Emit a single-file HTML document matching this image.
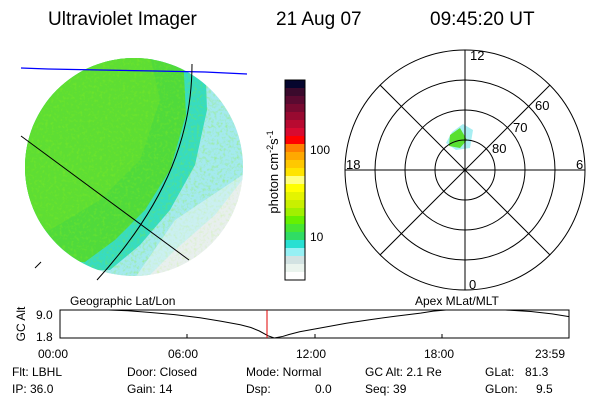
<!DOCTYPE html>
<html><head><meta charset="utf-8"><style>
body{margin:0;background:#fff;}
svg{display:block;font-family:"Liberation Sans",sans-serif;}
text{fill:#000;}
</style></head><body>
<svg width="600" height="400" viewBox="0 0 600 400">
<defs>
<clipPath id="disk"><circle cx="134" cy="167" r="109"/></clipPath>
<filter id="speck" x="0" y="0" width="1" height="1">
<feTurbulence type="fractalNoise" baseFrequency="0.35" numOctaves="2" seed="4" result="n"/>
<feColorMatrix in="n" type="matrix" values="0 0 0 0 0  0 0 0 0 0  0 0 0 0 0  0 0 0 1.6 -0.75" result="m"/>
<feComposite in="SourceGraphic" in2="m" operator="in"/>
</filter>
</defs>
<text x="48" y="25" font-size="19">Ultraviolet Imager</text>
<text x="276" y="25" font-size="19">21 Aug 07</text>
<text x="430" y="25" font-size="19">09:45:20 UT</text>

<g clip-path="url(#disk)">
<rect x="20" y="55" width="230" height="230" fill="#dfe9e8"/>
<path d="M20 55 L250 55 L250 170 L215 215 L175 250 L140 285 L20 285Z" fill="#a4eaee"/>
<path d="M20 55 L205 55 L207 110 L195 165 L170 210 L140 245 L110 270 L20 270Z" fill="#38dcc0"/>
<path d="M20 55 L183 55 L186 115 L170 170 L145 210 L115 240 L85 262 L20 262Z" fill="#50da3c"/>
<path d="M20 55 L150 55 L160 100 L140 160 L100 200 L50 230 L20 235Z" fill="#5ede34"/>
<rect x="20" y="55" width="230" height="230" fill="#8cf020" filter="url(#speck)" opacity="0.6"/>
<path d="M175 220 L250 170 L250 285 L130 285Z" fill="#f2f6f4" opacity="0.5"/>
</g>
<polyline points="21,68 48,69 100,70 155,71 205,72 247,74" fill="none" stroke="#0000ff" stroke-width="1.3"/>
<line x1="21" y1="136" x2="189" y2="260" stroke="#000"/>
<path d="M192 64 C192 130 170 200 97 280" fill="none" stroke="#000"/>
<line x1="35" y1="268" x2="41" y2="262" stroke="#000"/>

<g id="cbar"></g>
<rect x="285" y="80" width="20" height="200" fill="none" stroke="#000"/>
<text x="310" y="154" font-size="12">100</text>
<text x="310" y="241" font-size="12">10</text>
<text transform="translate(278,172) rotate(-90)" text-anchor="middle" font-size="13">photon cm<tspan font-size="9" dy="-5">-2</tspan><tspan dy="5">s</tspan><tspan font-size="9" dy="-5">-1</tspan></text>

<g fill="none" stroke="#000">
<path d="M452 132 L463 124 L473 130 L470 148 L456 150 L446 143Z" fill="#a8eef2" stroke="none"/>
<path d="M450 135 L460 128 L467 140 L460 148 L449 146Z" fill="#58e030" stroke="none"/>
<circle cx="465" cy="170" r="30"/><circle cx="465" cy="170" r="60"/><circle cx="465" cy="170" r="90"/><circle cx="465" cy="170" r="120"/>
<line x1="345" y1="170" x2="585" y2="170"/><line x1="465" y1="50" x2="465" y2="290"/>
<line x1="380" y1="85" x2="550" y2="255"/><line x1="550" y1="85" x2="380" y2="255"/>
</g>
<g font-size="13">
<text x="470" y="60">12</text><text x="469" y="289">0</text><text x="346" y="169">18</text><text x="576" y="169">6</text>
<text x="535" y="110">60</text><text x="513" y="132">70</text><text x="492" y="153">80</text>
</g>

<text x="70" y="305" font-size="12">Geographic Lat/Lon</text>
<text x="415" y="305" font-size="12">Apex  MLat/MLT</text>
<text transform="translate(25,324) rotate(-90)" text-anchor="middle" font-size="12">GC Alt</text>
<text x="36" y="319" font-size="12">9.0</text>
<text x="36" y="341" font-size="12">1.8</text>
<rect x="60" y="310" width="509" height="28" fill="none" stroke="#000"/>
<line x1="187" y1="334" x2="187" y2="338" stroke="#000"/><line x1="315" y1="334" x2="315" y2="338" stroke="#000"/><line x1="442" y1="334" x2="442" y2="338" stroke="#000"/>
<g id="orbit"></g>
<g font-size="12">
<text x="38" y="358">00:00</text><text x="168" y="358">06:00</text><text x="296" y="358">12:00</text><text x="424" y="358">18:00</text><text x="535" y="358">23:59</text>
</g>
<g font-size="12">
<text x="12" y="376">Flt: LBHL</text><text x="127" y="376">Door: Closed</text><text x="246" y="376">Mode: Normal</text><text x="365" y="376">GC Alt: 2.1 Re</text><text x="485" y="376">GLat:</text><text x="525" y="376">81.3</text>
<text x="12" y="393">IP: 36.0</text><text x="127" y="393">Gain: 14</text><text x="246" y="393">Dsp:</text><text x="315" y="393">0.0</text><text x="365" y="393">Seq: 39</text><text x="485" y="393">GLon:</text><text x="536" y="393">9.5</text>
</g>
</svg>
<script>
const cbarColors=["#06062e","#3a0a2c","#5a0a30","#780a30","#980a30","#b80a30","#d80a30","#ff0000","#ff8000","#ffa800","#ffc800","#ffe400","#ffff80","#ffff00","#e4f400","#c8f000","#a0f000","#66f000","#46e632","#30dc64","#28e0d2","#96f0f4","#d2e2e2","#eaf4ee","#ffffff"];
const orbitHours=[1.2,2.3,3.2,4.2,5.4,6.6,7.6,8.5,9.0,9.4,9.8,10.1,10.5,10.8,11.3,12.5,13.5,14.6,15.8,17.0,17.6,18.2,19.6,21.0,22.2,23.2,24.0];
const orbitAlt=[9.0,9.0,8.8,8.4,7.8,7.0,6.1,5.2,4.5,3.6,2.4,1.8,2.2,2.7,3.4,4.6,5.6,6.5,7.4,8.2,8.7,9.0,9.0,9.0,8.6,8.0,7.3];
const markerHour=[9.76];
const NS="http://www.w3.org/2000/svg";
const cb=document.getElementById('cbar');
const bh=200/cbarColors.length;
cbarColors.forEach((c,i)=>{const r=document.createElementNS(NS,'rect');


r.setAttribute('x',285);r.setAttribute('y',80+i*bh);r.setAttribute('width',20);r.setAttribute('height',bh+0.5);r.setAttribute('fill',c);cb.appendChild(r);});
const xs=h=>60+509*h/24, ys=a=>338-(a-1.8)/7.2*28;
const og=document.getElementById('orbit');
const pl=document.createElementNS(NS,'polyline');


pl.setAttribute('points',orbitHours.map((h,i)=>xs(h)+','+ys(orbitAlt[i])).join(' '));
pl.setAttribute('fill','none');pl.setAttribute('stroke','#000');og.appendChild(pl);
const ml=document.createElementNS(NS,'line');


ml.setAttribute('x1',xs(markerHour[0]));ml.setAttribute('x2',xs(markerHour[0]));ml.setAttribute('y1',310);ml.setAttribute('y2',338);ml.setAttribute('stroke','#e00000');og.appendChild(ml);
</script>
</body></html>
